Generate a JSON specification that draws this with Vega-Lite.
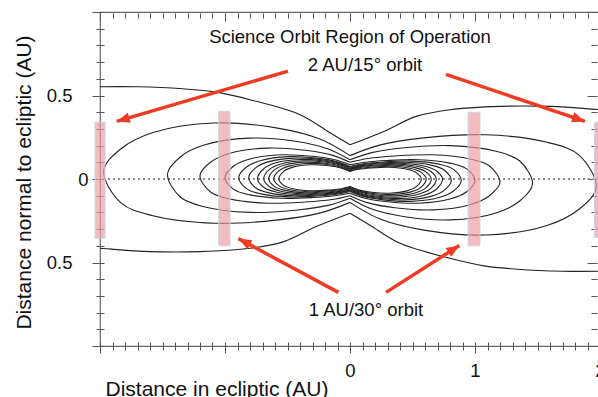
{
"$schema": "https://vega.github.io/schema/vega-lite/v6.json",
"autosize": {"type": "none"},
"padding": {"left": 100, "top": 12, "right": 0, "bottom": 51},
"width": 500,
"height": 334,
"config": {"view": {"stroke": "#666", "strokeWidth": 1.2}, "font": "Liberation Sans", "axis": {"grid": false}},
"datasets": {
"curves": [
{"i":"c1R","o":1,"x":0,"y":0.045},{"i":"c1R","o":2,"x":0.068,"y":0.058},{"i":"c1R","o":3,"x":0.171,"y":0.066},{"i":"c1R","o":4,"x":0.314,"y":0.07},{"i":"c1R","o":5,"x":0.456,"y":0.058},{"i":"c1R","o":6,"x":0.53,"y":0.038},{"i":"c1R","o":7,"x":0.57,"y":0},{"i":"c1R","o":8,"x":0.53,"y":-0.046},{"i":"c1R","o":9,"x":0.456,"y":-0.071},{"i":"c1R","o":10,"x":0.314,"y":-0.085},{"i":"c1R","o":11,"x":0.171,"y":-0.079},{"i":"c1R","o":12,"x":0.068,"y":-0.065},{"i":"c1R","o":13,"x":0,"y":-0.045},
{"i":"c1L","o":1,"x":0,"y":-0.045},{"i":"c1L","o":2,"x":-0.068,"y":-0.058},{"i":"c1L","o":3,"x":-0.171,"y":-0.066},{"i":"c1L","o":4,"x":-0.314,"y":-0.07},{"i":"c1L","o":5,"x":-0.456,"y":-0.058},{"i":"c1L","o":6,"x":-0.53,"y":-0.038},{"i":"c1L","o":7,"x":-0.57,"y":0},{"i":"c1L","o":8,"x":-0.53,"y":0.046},{"i":"c1L","o":9,"x":-0.456,"y":0.071},{"i":"c1L","o":10,"x":-0.314,"y":0.085},{"i":"c1L","o":11,"x":-0.171,"y":0.079},{"i":"c1L","o":12,"x":-0.068,"y":0.065},{"i":"c1L","o":13,"x":0,"y":0.045},
{"i":"c2R","o":1,"x":0,"y":0.05},{"i":"c2R","o":2,"x":0.073,"y":0.063},{"i":"c2R","o":3,"x":0.183,"y":0.072},{"i":"c2R","o":4,"x":0.336,"y":0.076},{"i":"c2R","o":5,"x":0.488,"y":0.063},{"i":"c2R","o":6,"x":0.567,"y":0.041},{"i":"c2R","o":7,"x":0.61,"y":0},{"i":"c2R","o":8,"x":0.567,"y":-0.05},{"i":"c2R","o":9,"x":0.488,"y":-0.077},{"i":"c2R","o":10,"x":0.336,"y":-0.093},{"i":"c2R","o":11,"x":0.183,"y":-0.087},{"i":"c2R","o":12,"x":0.073,"y":-0.072},{"i":"c2R","o":13,"x":0,"y":-0.05},
{"i":"c2L","o":1,"x":0,"y":-0.05},{"i":"c2L","o":2,"x":-0.073,"y":-0.063},{"i":"c2L","o":3,"x":-0.183,"y":-0.072},{"i":"c2L","o":4,"x":-0.336,"y":-0.076},{"i":"c2L","o":5,"x":-0.488,"y":-0.063},{"i":"c2L","o":6,"x":-0.567,"y":-0.041},{"i":"c2L","o":7,"x":-0.61,"y":0},{"i":"c2L","o":8,"x":-0.567,"y":0.05},{"i":"c2L","o":9,"x":-0.488,"y":0.077},{"i":"c2L","o":10,"x":-0.336,"y":0.093},{"i":"c2L","o":11,"x":-0.183,"y":0.087},{"i":"c2L","o":12,"x":-0.073,"y":0.072},{"i":"c2L","o":13,"x":0,"y":0.05},
{"i":"c3R","o":1,"x":0,"y":0.055},{"i":"c3R","o":2,"x":0.078,"y":0.069},{"i":"c3R","o":3,"x":0.195,"y":0.078},{"i":"c3R","o":4,"x":0.358,"y":0.082},{"i":"c3R","o":5,"x":0.52,"y":0.068},{"i":"c3R","o":6,"x":0.605,"y":0.044},{"i":"c3R","o":7,"x":0.65,"y":0},{"i":"c3R","o":8,"x":0.605,"y":-0.055},{"i":"c3R","o":9,"x":0.52,"y":-0.084},{"i":"c3R","o":10,"x":0.358,"y":-0.101},{"i":"c3R","o":11,"x":0.195,"y":-0.094},{"i":"c3R","o":12,"x":0.078,"y":-0.078},{"i":"c3R","o":13,"x":0,"y":-0.055},
{"i":"c3L","o":1,"x":0,"y":-0.055},{"i":"c3L","o":2,"x":-0.078,"y":-0.069},{"i":"c3L","o":3,"x":-0.195,"y":-0.078},{"i":"c3L","o":4,"x":-0.358,"y":-0.082},{"i":"c3L","o":5,"x":-0.52,"y":-0.068},{"i":"c3L","o":6,"x":-0.605,"y":-0.044},{"i":"c3L","o":7,"x":-0.65,"y":0},{"i":"c3L","o":8,"x":-0.605,"y":0.055},{"i":"c3L","o":9,"x":-0.52,"y":0.084},{"i":"c3L","o":10,"x":-0.358,"y":0.101},{"i":"c3L","o":11,"x":-0.195,"y":0.094},{"i":"c3L","o":12,"x":-0.078,"y":0.078},{"i":"c3L","o":13,"x":0,"y":0.055},
{"i":"c4R","o":1,"x":0,"y":0.06},{"i":"c4R","o":2,"x":0.083,"y":0.074},{"i":"c4R","o":3,"x":0.207,"y":0.084},{"i":"c4R","o":4,"x":0.38,"y":0.088},{"i":"c4R","o":5,"x":0.552,"y":0.073},{"i":"c4R","o":6,"x":0.642,"y":0.048},{"i":"c4R","o":7,"x":0.69,"y":0},{"i":"c4R","o":8,"x":0.642,"y":-0.059},{"i":"c4R","o":9,"x":0.552,"y":-0.09},{"i":"c4R","o":10,"x":0.38,"y":-0.109},{"i":"c4R","o":11,"x":0.207,"y":-0.102},{"i":"c4R","o":12,"x":0.083,"y":-0.085},{"i":"c4R","o":13,"x":0,"y":-0.06},
{"i":"c4L","o":1,"x":0,"y":-0.06},{"i":"c4L","o":2,"x":-0.083,"y":-0.074},{"i":"c4L","o":3,"x":-0.207,"y":-0.084},{"i":"c4L","o":4,"x":-0.38,"y":-0.088},{"i":"c4L","o":5,"x":-0.552,"y":-0.073},{"i":"c4L","o":6,"x":-0.642,"y":-0.048},{"i":"c4L","o":7,"x":-0.69,"y":0},{"i":"c4L","o":8,"x":-0.642,"y":0.059},{"i":"c4L","o":9,"x":-0.552,"y":0.09},{"i":"c4L","o":10,"x":-0.38,"y":0.109},{"i":"c4L","o":11,"x":-0.207,"y":0.102},{"i":"c4L","o":12,"x":-0.083,"y":0.085},{"i":"c4L","o":13,"x":0,"y":0.06},
{"i":"c5R","o":1,"x":0,"y":0.065},{"i":"c5R","o":2,"x":0.089,"y":0.08},{"i":"c5R","o":3,"x":0.222,"y":0.09},{"i":"c5R","o":4,"x":0.407,"y":0.094},{"i":"c5R","o":5,"x":0.592,"y":0.078},{"i":"c5R","o":6,"x":0.688,"y":0.051},{"i":"c5R","o":7,"x":0.74,"y":0},{"i":"c5R","o":8,"x":0.688,"y":-0.063},{"i":"c5R","o":9,"x":0.592,"y":-0.097},{"i":"c5R","o":10,"x":0.407,"y":-0.117},{"i":"c5R","o":11,"x":0.222,"y":-0.109},{"i":"c5R","o":12,"x":0.089,"y":-0.091},{"i":"c5R","o":13,"x":0,"y":-0.065},
{"i":"c5L","o":1,"x":0,"y":-0.065},{"i":"c5L","o":2,"x":-0.089,"y":-0.08},{"i":"c5L","o":3,"x":-0.222,"y":-0.09},{"i":"c5L","o":4,"x":-0.407,"y":-0.094},{"i":"c5L","o":5,"x":-0.592,"y":-0.078},{"i":"c5L","o":6,"x":-0.688,"y":-0.051},{"i":"c5L","o":7,"x":-0.74,"y":0},{"i":"c5L","o":8,"x":-0.688,"y":0.063},{"i":"c5L","o":9,"x":-0.592,"y":0.097},{"i":"c5L","o":10,"x":-0.407,"y":0.117},{"i":"c5L","o":11,"x":-0.222,"y":0.109},{"i":"c5L","o":12,"x":-0.089,"y":0.091},{"i":"c5L","o":13,"x":0,"y":0.065},
{"i":"c6R","o":1,"x":0,"y":0.07},{"i":"c6R","o":2,"x":0.097,"y":0.085},{"i":"c6R","o":3,"x":0.243,"y":0.096},{"i":"c6R","o":4,"x":0.446,"y":0.1},{"i":"c6R","o":5,"x":0.648,"y":0.083},{"i":"c6R","o":6,"x":0.753,"y":0.054},{"i":"c6R","o":7,"x":0.81,"y":-0.01},{"i":"c6R","o":8,"x":0.753,"y":-0.068},{"i":"c6R","o":9,"x":0.648,"y":-0.104},{"i":"c6R","o":10,"x":0.446,"y":-0.125},{"i":"c6R","o":11,"x":0.243,"y":-0.117},{"i":"c6R","o":12,"x":0.097,"y":-0.098},{"i":"c6R","o":13,"x":0,"y":-0.07},
{"i":"c6L","o":1,"x":0,"y":-0.07},{"i":"c6L","o":2,"x":-0.097,"y":-0.085},{"i":"c6L","o":3,"x":-0.243,"y":-0.096},{"i":"c6L","o":4,"x":-0.446,"y":-0.1},{"i":"c6L","o":5,"x":-0.648,"y":-0.083},{"i":"c6L","o":6,"x":-0.753,"y":-0.054},{"i":"c6L","o":7,"x":-0.81,"y":0.01},{"i":"c6L","o":8,"x":-0.753,"y":0.068},{"i":"c6L","o":9,"x":-0.648,"y":0.104},{"i":"c6L","o":10,"x":-0.446,"y":0.125},{"i":"c6L","o":11,"x":-0.243,"y":0.117},{"i":"c6L","o":12,"x":-0.097,"y":0.098},{"i":"c6L","o":13,"x":0,"y":0.07},
{"i":"c7R","o":1,"x":0,"y":0.075},{"i":"c7R","o":2,"x":0.107,"y":0.091},{"i":"c7R","o":3,"x":0.267,"y":0.102},{"i":"c7R","o":4,"x":0.49,"y":0.107},{"i":"c7R","o":5,"x":0.712,"y":0.089},{"i":"c7R","o":6,"x":0.828,"y":0.058},{"i":"c7R","o":7,"x":0.89,"y":-0.01},{"i":"c7R","o":8,"x":0.828,"y":-0.072},{"i":"c7R","o":9,"x":0.712,"y":-0.111},{"i":"c7R","o":10,"x":0.49,"y":-0.134},{"i":"c7R","o":11,"x":0.267,"y":-0.125},{"i":"c7R","o":12,"x":0.107,"y":-0.105},{"i":"c7R","o":13,"x":0,"y":-0.075},
{"i":"c7L","o":1,"x":0,"y":-0.075},{"i":"c7L","o":2,"x":-0.107,"y":-0.091},{"i":"c7L","o":3,"x":-0.267,"y":-0.102},{"i":"c7L","o":4,"x":-0.49,"y":-0.107},{"i":"c7L","o":5,"x":-0.712,"y":-0.089},{"i":"c7L","o":6,"x":-0.828,"y":-0.058},{"i":"c7L","o":7,"x":-0.89,"y":0.01},{"i":"c7L","o":8,"x":-0.828,"y":0.072},{"i":"c7L","o":9,"x":-0.712,"y":0.111},{"i":"c7L","o":10,"x":-0.49,"y":0.134},{"i":"c7L","o":11,"x":-0.267,"y":0.125},{"i":"c7L","o":12,"x":-0.107,"y":0.105},{"i":"c7L","o":13,"x":0,"y":0.075},
{"i":"c8R","o":1,"x":0,"y":0.085},{"i":"c8R","o":2,"x":0.12,"y":0.1},{"i":"c8R","o":3,"x":0.3,"y":0.111},{"i":"c8R","o":4,"x":0.55,"y":0.115},{"i":"c8R","o":5,"x":0.8,"y":0.095},{"i":"c8R","o":6,"x":0.93,"y":0.062},{"i":"c8R","o":7,"x":1.0,"y":-0.01},{"i":"c8R","o":8,"x":0.93,"y":-0.078},{"i":"c8R","o":9,"x":0.8,"y":-0.12},{"i":"c8R","o":10,"x":0.55,"y":-0.145},{"i":"c8R","o":11,"x":0.3,"y":-0.136},{"i":"c8R","o":12,"x":0.12,"y":-0.115},{"i":"c8R","o":13,"x":0,"y":-0.085},
{"i":"c8L","o":1,"x":0,"y":-0.085},{"i":"c8L","o":2,"x":-0.12,"y":-0.1},{"i":"c8L","o":3,"x":-0.3,"y":-0.111},{"i":"c8L","o":4,"x":-0.55,"y":-0.115},{"i":"c8L","o":5,"x":-0.8,"y":-0.095},{"i":"c8L","o":6,"x":-0.93,"y":-0.062},{"i":"c8L","o":7,"x":-1.0,"y":0.01},{"i":"c8L","o":8,"x":-0.93,"y":0.078},{"i":"c8L","o":9,"x":-0.8,"y":0.12},{"i":"c8L","o":10,"x":-0.55,"y":0.145},{"i":"c8L","o":11,"x":-0.3,"y":0.136},{"i":"c8L","o":12,"x":-0.12,"y":0.115},{"i":"c8L","o":13,"x":0,"y":0.085},
{"i":"c9R","o":1,"x":0,"y":0.1},{"i":"c9R","o":2,"x":0.144,"y":0.123},{"i":"c9R","o":3,"x":0.36,"y":0.138},{"i":"c9R","o":4,"x":0.66,"y":0.145},{"i":"c9R","o":5,"x":0.96,"y":0.12},{"i":"c9R","o":6,"x":1.116,"y":0.078},{"i":"c9R","o":7,"x":1.2,"y":-0.02},{"i":"c9R","o":8,"x":1.116,"y":-0.1},{"i":"c9R","o":9,"x":0.96,"y":-0.154},{"i":"c9R","o":10,"x":0.66,"y":-0.185},{"i":"c9R","o":11,"x":0.36,"y":-0.172},{"i":"c9R","o":12,"x":0.144,"y":-0.143},{"i":"c9R","o":13,"x":0,"y":-0.1},
{"i":"c9L","o":1,"x":0,"y":-0.1},{"i":"c9L","o":2,"x":-0.144,"y":-0.123},{"i":"c9L","o":3,"x":-0.36,"y":-0.138},{"i":"c9L","o":4,"x":-0.66,"y":-0.145},{"i":"c9L","o":5,"x":-0.96,"y":-0.12},{"i":"c9L","o":6,"x":-1.116,"y":-0.078},{"i":"c9L","o":7,"x":-1.2,"y":0.02},{"i":"c9L","o":8,"x":-1.116,"y":0.1},{"i":"c9L","o":9,"x":-0.96,"y":0.154},{"i":"c9L","o":10,"x":-0.66,"y":0.185},{"i":"c9L","o":11,"x":-0.36,"y":0.172},{"i":"c9L","o":12,"x":-0.144,"y":0.143},{"i":"c9L","o":13,"x":0,"y":0.1},
{"i":"c10R","o":1,"x":0,"y":0.115},{"i":"c10R","o":2,"x":0.175,"y":0.158},{"i":"c10R","o":3,"x":0.438,"y":0.187},{"i":"c10R","o":4,"x":0.803,"y":0.2},{"i":"c10R","o":5,"x":1.168,"y":0.166},{"i":"c10R","o":6,"x":1.358,"y":0.108},{"i":"c10R","o":7,"x":1.46,"y":-0.03},{"i":"c10R","o":8,"x":1.358,"y":-0.132},{"i":"c10R","o":9,"x":1.168,"y":-0.203},{"i":"c10R","o":10,"x":0.803,"y":-0.245},{"i":"c10R","o":11,"x":0.438,"y":-0.226},{"i":"c10R","o":12,"x":0.175,"y":-0.18},{"i":"c10R","o":13,"x":0,"y":-0.115},
{"i":"c10L","o":1,"x":0,"y":-0.115},{"i":"c10L","o":2,"x":-0.175,"y":-0.158},{"i":"c10L","o":3,"x":-0.438,"y":-0.187},{"i":"c10L","o":4,"x":-0.803,"y":-0.2},{"i":"c10L","o":5,"x":-1.168,"y":-0.166},{"i":"c10L","o":6,"x":-1.358,"y":-0.108},{"i":"c10L","o":7,"x":-1.46,"y":0.03},{"i":"c10L","o":8,"x":-1.358,"y":0.132},{"i":"c10L","o":9,"x":-1.168,"y":0.203},{"i":"c10L","o":10,"x":-0.803,"y":0.245},{"i":"c10L","o":11,"x":-0.438,"y":0.226},{"i":"c10L","o":12,"x":-0.175,"y":0.18},{"i":"c10L","o":13,"x":0,"y":0.115},
{"i":"c11R","o":1,"x":0,"y":0.14},{"i":"c11R","o":2,"x":0.236,"y":0.203},{"i":"c11R","o":3,"x":0.591,"y":0.246},{"i":"c11R","o":4,"x":1.084,"y":0.265},{"i":"c11R","o":5,"x":1.576,"y":0.22},{"i":"c11R","o":6,"x":1.832,"y":0.143},{"i":"c11R","o":7,"x":1.97,"y":-0.05},{"i":"c11R","o":8,"x":1.832,"y":-0.181},{"i":"c11R","o":9,"x":1.576,"y":-0.278},{"i":"c11R","o":10,"x":1.084,"y":-0.335},{"i":"c11R","o":11,"x":0.591,"y":-0.306},{"i":"c11R","o":12,"x":0.236,"y":-0.238},{"i":"c11R","o":13,"x":0,"y":-0.14},
{"i":"c11L","o":1,"x":0,"y":-0.14},{"i":"c11L","o":2,"x":-0.236,"y":-0.203},{"i":"c11L","o":3,"x":-0.591,"y":-0.246},{"i":"c11L","o":4,"x":-1.084,"y":-0.265},{"i":"c11L","o":5,"x":-1.576,"y":-0.22},{"i":"c11L","o":6,"x":-1.832,"y":-0.143},{"i":"c11L","o":7,"x":-1.97,"y":0.05},{"i":"c11L","o":8,"x":-1.832,"y":0.181},{"i":"c11L","o":9,"x":-1.576,"y":0.278},{"i":"c11L","o":10,"x":-1.084,"y":0.335},{"i":"c11L","o":11,"x":-0.591,"y":0.306},{"i":"c11L","o":12,"x":-0.236,"y":0.238},{"i":"c11L","o":13,"x":0,"y":0.14},
{"i":"c12UL","o":1,"x":0,"y":0.205},{"i":"c12UL","o":2,"x":-0.16,"y":0.277},{"i":"c12UL","o":3,"x":-0.4,"y":0.385},{"i":"c12UL","o":4,"x":-0.8,"y":0.475},{"i":"c12UL","o":5,"x":-1.07,"y":0.52},{"i":"c12UL","o":6,"x":-1.34,"y":0.54},{"i":"c12UL","o":7,"x":-1.7,"y":0.552},{"i":"c12UL","o":8,"x":-2.0,"y":0.552},{"i":"c12UL","o":9,"x":-2.25,"y":0.545},
{"i":"c12UR","o":1,"x":0,"y":0.205},{"i":"c12UR","o":2,"x":0.27,"y":0.285},{"i":"c12UR","o":3,"x":0.53,"y":0.375},{"i":"c12UR","o":4,"x":0.8,"y":0.415},{"i":"c12UR","o":5,"x":1.2,"y":0.435},{"i":"c12UR","o":6,"x":1.6,"y":0.435},{"i":"c12UR","o":7,"x":2.0,"y":0.415},{"i":"c12UR","o":8,"x":2.25,"y":0.4},
{"i":"c12LR","o":1,"x":0,"y":-0.205},{"i":"c12LR","o":2,"x":0.16,"y":-0.277},{"i":"c12LR","o":3,"x":0.4,"y":-0.385},{"i":"c12LR","o":4,"x":0.8,"y":-0.475},{"i":"c12LR","o":5,"x":1.07,"y":-0.52},{"i":"c12LR","o":6,"x":1.34,"y":-0.54},{"i":"c12LR","o":7,"x":1.7,"y":-0.552},{"i":"c12LR","o":8,"x":2.0,"y":-0.552},{"i":"c12LR","o":9,"x":2.25,"y":-0.545},
{"i":"c12LL","o":1,"x":0,"y":-0.205},{"i":"c12LL","o":2,"x":-0.27,"y":-0.285},{"i":"c12LL","o":3,"x":-0.53,"y":-0.375},{"i":"c12LL","o":4,"x":-0.8,"y":-0.415},{"i":"c12LL","o":5,"x":-1.2,"y":-0.435},{"i":"c12LL","o":6,"x":-1.6,"y":-0.435},{"i":"c12LL","o":7,"x":-2.0,"y":-0.415},{"i":"c12LL","o":8,"x":-2.25,"y":-0.4}
],
"bars": [
{"x":-2.04,"x2":-1.96,"y":-0.355,"y2":0.34},
{"x":-1.05,"x2":-0.96,"y":-0.4,"y2":0.405},
{"x":0.945,"x2":1.04,"y":-0.4,"y2":0.4},
{"x":1.955,"x2":2.05,"y":-0.35,"y2":0.34}
],
"arrows": [
{"id":"a1","tx":-0.496,"ty":0.646,"hx":-1.866,"hy":0.345},
{"id":"a2","tx":0.768,"ty":0.627,"hx":1.88,"hy":0.345},
{"id":"a3","tx":-0.093,"ty":-0.679,"hx":-0.893,"hy":-0.357},
{"id":"a4","tx":0.288,"ty":-0.679,"hx":0.875,"hy":-0.398}
],
"notes": [
{"t":"Science Orbit Region of Operation","x":0.0,"y":0.852},
{"t":"2 AU/15° orbit","x":0.12,"y":0.683},
{"t":"1 AU/30° orbit","x":0.128,"y":-0.784}
]
},
"layer": [
{
"data": {"name": "curves"},
"mark": {"type": "rule", "strokeDash": [1.5, 3.5], "color": "#8a8a8a", "strokeWidth": 1.4},
"encoding": {"y": {"datum": 0, "type": "quantitative", "scale": {"domain": [-1, 1], "nice": false, "zero": false}, "axis": null}}
},
{
"data": {"name": "curves"},
"mark": {"type": "line", "interpolate": "catmull-rom", "color": "#222", "strokeWidth": 1.1, "clip": true},
"encoding": {
"x": {"field": "x", "type": "quantitative", "scale": {"domain": [-2, 2], "nice": false, "zero": false},
"axis": {"orient": "bottom", "values": [-2,-1.9,-1.8,-1.7,-1.6,-1.5,-1.4,-1.3,-1.2,-1.1,-1,-0.9,-0.8,-0.7,-0.6,-0.5,-0.4,-0.3,-0.2,-0.1,0,0.1,0.2,0.3,0.4,0.5,0.6,0.7,0.8,0.9,1,1.1,1.2,1.3,1.4,1.5,1.6,1.7,1.8,1.9,2],
"domain": false, "offset": -4, "tickColor": "#555", "tickWidth": 1,
"tickSize": {"condition": {"test": "abs(datum.value - round(datum.value)) < 0.01", "value": 11}, "value": 8},
"labelExpr": "abs(datum.value) < 0.01 ? '0' : abs(datum.value - 1) < 0.01 ? '1' : abs(datum.value - 2) < 0.01 ? '2' : ''",
"labelOverlap": false, "labelFontSize": 18.5, "labelColor": "#111", "labelPadding": 8, "labelFlush": false,
"title": "Distance in ecliptic (AU)", "titleFontSize": 21, "titleFontWeight": "normal", "titleColor": "#111",
"titleAnchor": "start", "titleAlign": "left", "titleBaseline": "alphabetic", "titleX": 5, "titleY": 53}},
"y": {"field": "y", "type": "quantitative", "scale": {"domain": [-1, 1], "nice": false, "zero": false},
"axis": {"orient": "left", "values": [-1,-0.9,-0.8,-0.7,-0.6,-0.5,-0.4,-0.3,-0.2,-0.1,0,0.1,0.2,0.3,0.4,0.5,0.6,0.7,0.8,0.9,1],
"domain": false, "offset": -4, "tickColor": "#555", "tickWidth": 1,
"tickSize": {"condition": {"test": "abs(datum.value*2 - round(datum.value*2)) < 0.01", "value": 12}, "value": 8},
"labelExpr": "abs(abs(datum.value) - 0.5) < 0.01 ? '0.5' : ''",
"labelOverlap": false, "labelFontSize": 18.5, "labelColor": "#111", "labelFlush": false, "labelPadding": 20,
"title": "Distance normal to ecliptic (AU)", "titleFontSize": 21, "titleFontWeight": "normal", "titleColor": "#111",
"titleAngle": -90, "titleAlign": "center", "titleBaseline": "alphabetic", "titleX": -74, "titleY": 170}},
"detail": {"field": "i", "type": "nominal"},
"order": {"field": "o", "type": "quantitative"}
}
},
{
"data": {"name": "bars"},
"mark": {"type": "rect", "color": "#ee9ca3", "fillOpacity": 0.68, "stroke": "#c9d5df", "strokeWidth": 1},
"encoding": {
"x": {"field": "x", "type": "quantitative", "scale": {"domain": [-2, 2], "nice": false, "zero": false},
"axis": {"orient": "top", "values": [-1.9,-1.8,-1.7,-1.6,-1.5,-1.4,-1.3,-1.2,-1.1,-0.9,-0.8,-0.7,-0.6,-0.5,-0.4,-0.3,-0.2,-0.1,0.1,0.2,0.3,0.4,0.5,0.6,0.7,0.8,0.9,1.1,1.2,1.3,1.4,1.5,1.6,1.7,1.8,1.9],
"domain": false, "labels": false, "title": null, "tickColor": "#555", "tickWidth": 1, "offset": -6, "tickSize": 5}},
"x2": {"field": "x2"},
"y": {"field": "y", "type": "quantitative", "scale": {"domain": [-1, 1], "nice": false, "zero": false},
"axis": {"orient": "right", "values": [-0.9,-0.8,-0.7,-0.6,-0.4,-0.3,-0.2,-0.1,0.1,0.2,0.3,0.4,0.6,0.7,0.8,0.9],
"domain": false, "labels": false, "title": null, "tickColor": "#555", "tickWidth": 1, "offset": -9, "tickSize": 6}},
"y2": {"field": "y2"}
}
},
{
"data": {"name": "arrows"},
"mark": {"type": "rule", "color": "#f03b24", "strokeWidth": 3.5},
"encoding": {
"x": {"field": "tx", "type": "quantitative", "scale": {"domain": [-2, 2], "nice": false, "zero": false},
"axis": {"orient": "top", "values": [-2,-1,0,1,2], "domain": false, "labels": false, "title": null, "tickColor": "#555", "tickWidth": 1, "offset": -9, "tickSize": 8}},
"y": {"field": "ty", "type": "quantitative", "scale": {"domain": [-1, 1], "nice": false, "zero": false},
"axis": {"orient": "right", "values": [-1,-0.5,0,0.5,1], "domain": false, "labels": false, "title": null, "tickColor": "#555", "tickWidth": 1, "offset": -13, "tickSize": 10}},
"x2": {"field": "hx"},
"y2": {"field": "hy"}
}
},
{
"data": {"name": "arrows"},
"transform": [{"filter": "datum.id == 'a1'"}],
"mark": {"type": "point", "shape": "M0,0L-0.8,2L0.8,2Z", "filled": true, "color": "#f03b24", "opacity": 1, "size": 169, "angle": 253.7, "strokeWidth": 0},
"encoding": {
"x": {"field": "hx", "type": "quantitative", "scale": {"domain": [-2, 2], "nice": false, "zero": false}, "axis": null},
"y": {"field": "hy", "type": "quantitative", "scale": {"domain": [-1, 1], "nice": false, "zero": false}, "axis": null}
}
},
{
"data": {"name": "arrows"},
"transform": [{"filter": "datum.id == 'a2'"}],
"mark": {"type": "point", "shape": "M0,0L-0.8,2L0.8,2Z", "filled": true, "color": "#f03b24", "opacity": 1, "size": 169, "angle": 108.6, "strokeWidth": 0},
"encoding": {
"x": {"field": "hx", "type": "quantitative", "scale": {"domain": [-2, 2], "nice": false, "zero": false}, "axis": null},
"y": {"field": "hy", "type": "quantitative", "scale": {"domain": [-1, 1], "nice": false, "zero": false}, "axis": null}
}
},
{
"data": {"name": "arrows"},
"transform": [{"filter": "datum.id == 'a3'"}],
"mark": {"type": "point", "shape": "M0,0L-0.8,2L0.8,2Z", "filled": true, "color": "#f03b24", "opacity": 1, "size": 169, "angle": 298.1, "strokeWidth": 0},
"encoding": {
"x": {"field": "hx", "type": "quantitative", "scale": {"domain": [-2, 2], "nice": false, "zero": false}, "axis": null},
"y": {"field": "hy", "type": "quantitative", "scale": {"domain": [-1, 1], "nice": false, "zero": false}, "axis": null}
}
},
{
"data": {"name": "arrows"},
"transform": [{"filter": "datum.id == 'a4'"}],
"mark": {"type": "point", "shape": "M0,0L-0.8,2L0.8,2Z", "filled": true, "color": "#f03b24", "opacity": 1, "size": 169, "angle": 57.5, "strokeWidth": 0},
"encoding": {
"x": {"field": "hx", "type": "quantitative", "scale": {"domain": [-2, 2], "nice": false, "zero": false}, "axis": null},
"y": {"field": "hy", "type": "quantitative", "scale": {"domain": [-1, 1], "nice": false, "zero": false}, "axis": null}
}
},
{
"data": {"name": "notes"},
"mark": {"type": "text", "font": "Liberation Sans", "fontSize": 18.5, "color": "#111", "align": "center", "baseline": "middle"},
"encoding": {
"x": {"field": "x", "type": "quantitative", "scale": {"domain": [-2, 2], "nice": false, "zero": false}, "axis": null},
"y": {"field": "y", "type": "quantitative", "scale": {"domain": [-1, 1], "nice": false, "zero": false},
"axis": {"orient": "left", "values": [0], "domain": false, "ticks": false, "tickSize": 0, "offset": -10, "labelExpr": "'0'", "labelFontSize": 18.5, "labelColor": "#111", "labelPadding": 22, "labelFlush": false, "title": null}},
"text": {"field": "t", "type": "nominal"}
}
}
],
"resolve": {"scale": {"x": "independent", "y": "independent"}, "axis": {"x": "independent", "y": "independent"}}
}
